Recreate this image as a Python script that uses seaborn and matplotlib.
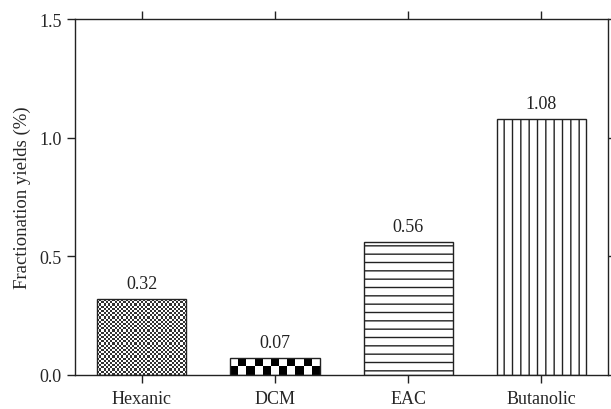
import numpy as np
import pandas as pd
import matplotlib
matplotlib.use("Agg")
import matplotlib.pyplot as plt
import seaborn as sns

# data
fractions = ["Hexanic", "DCM", "EAC", "Butanolic"]
yields = [0.32, 0.07, 0.56, 1.08]
value_labels = ["0.32", "0.07", "0.56", "1.08"]

df = pd.DataFrame({"Fraction": fractions, "Yield": yields})

sns.set_theme(style="ticks")
plt.rcParams["font.family"] = ["Liberation Serif", "DejaVu Serif"]
plt.rcParams["hatch.linewidth"] = 1.0
plt.rcParams["hatch.color"] = "#222222"

fig, ax = plt.subplots(figsize=(6.11, 4.10), dpi=100)
fig.subplots_adjust(left=0.123, right=0.995, top=0.951, bottom=0.083)

sns.barplot(data=df, x="Fraction", y="Yield", color="white", width=0.67,
            edgecolor="#222222", linewidth=1.0, ax=ax, zorder=3)

ax.set_xlim(-0.5, 3.5)
ax.set_ylim(0, 1.5)
ax.set_yticks([0.0, 0.5, 1.0, 1.5])
ax.set_yticklabels(["0.0", "0.5", "1.0", "1.5"])
ax.set_xlabel("")
ax.set_ylabel("Fractionation yields (%)", fontsize=13.5, labelpad=6)

for sp in ax.spines.values():
    sp.set_visible(True)
    sp.set_linewidth(1.0)
    sp.set_color("#222222")
ax.tick_params(axis="both", which="both", direction="out", length=6, width=1.0,
               color="#222222", labelsize=13, top=True, right=True,
               labeltop=False, labelright=False)
ax.tick_params(axis="x", pad=5)

patches = list(ax.patches)
fig.canvas.draw()

# textures: fine checker, coarse checker, horizontal lines, vertical lines
checker_px = {0: 2.2, 1: 8.0}
for i, p in enumerate(patches):
    p.set_facecolor("none")
    if i in checker_px:
        x0, w, h = p.get_x(), p.get_width(), p.get_height()
        (px0, py0), (px1, py1) = ax.transData.transform([(x0, 0), (x0 + w, h)])
        cols = max(int(round(abs(px1 - px0) / checker_px[i])), 1)
        rows = max(int(round(abs(py1 - py0) / checker_px[i])), 1)
        board = np.indices((rows, cols)).sum(axis=0) % 2
        im = ax.imshow(board, cmap="gray_r", extent=(x0, x0 + w, 0, h),
                       aspect="auto", interpolation="nearest", zorder=2,
                       vmin=0, vmax=1.25 if i == 0 else 1)
        im.set_clip_path(p)
    elif i == 2:
        p.set_hatch("--")
    elif i == 3:
        p.set_hatch("||")

ax.set_xlim(-0.5, 3.5)
ax.set_ylim(0, 1.5)

for p, lab in zip(patches, value_labels):
    ax.text(p.get_x() + p.get_width() / 2, p.get_height() + 0.03, lab,
            ha="center", va="bottom", fontsize=13, color="#222222")

fig.savefig("out.png", dpi=100)
